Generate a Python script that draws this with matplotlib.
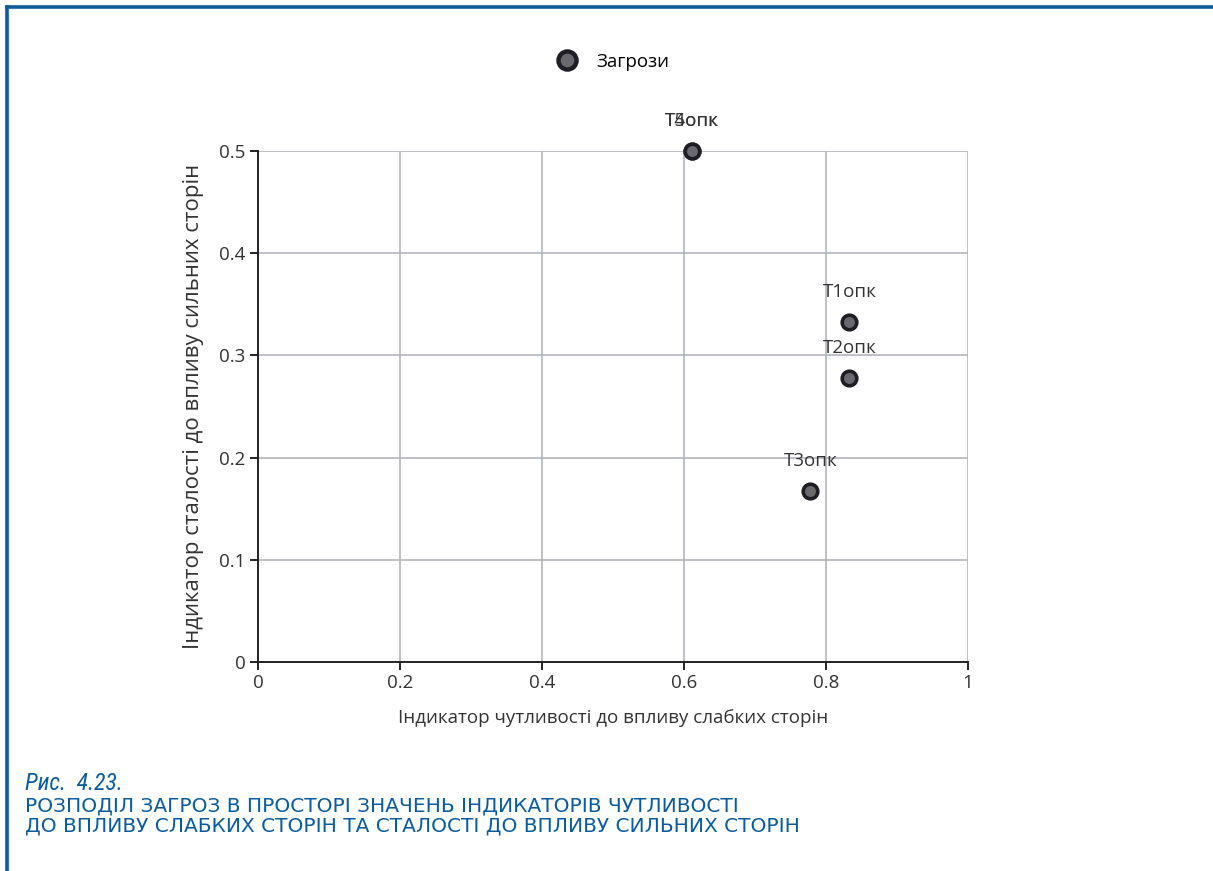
import matplotlib

matplotlib.use("Agg")
import matplotlib.pyplot as plt
from matplotlib import font_manager
from matplotlib.lines import Line2D

# threat positions: sensitivity to weaknesses (x) vs. stability to strengths (y)
labels = ["Т1опк", "Т2опк", "Т3опк", "Т4опк", "Т5опк"]
x_vals = [0.833, 0.833, 0.778, 0.611, 0.611]
y_vals = [0.333, 0.278, 0.167, 0.5, 0.5]

x_ticks = [0, 0.2, 0.4, 0.6, 0.8, 1]
x_ticklabels = ["0", "0.2", "0.4", "0.6", "0.8", "1"]
y_ticks = [0, 0.1, 0.2, 0.3, 0.4, 0.5]
y_ticklabels = ["0", "0.1", "0.2", "0.3", "0.4", "0.5"]

BLUE = "#0b5c9c"
GRID = "#b4b4bc"
names = {f.name for f in font_manager.fontManager.ttflist}
NARROW = next((n for n in ["Liberation Sans Narrow", "DejaVu Sans Condensed",
                           "Roboto Condensed", "Open Sans Condensed"] if n in names),
              "DejaVu Sans")
plt.rcParams["font.family"] = ["Open Sans", "DejaVu Sans"]

fig = plt.figure(figsize=(12.13, 8.71), dpi=100)
ax = fig.add_axes([0.2127, 0.2400, 0.5853, 0.5867])

ax.scatter(x_vals, y_vals, s=110, c="#6a6a6e", edgecolors="#1e1e24",
           linewidths=2.6, zorder=3, clip_on=False)
for lab, x, y in zip(labels, x_vals, y_vals):
    ax.annotate(lab, (x, y), xytext=(0, 15), textcoords="offset points",
                ha="center", va="bottom", fontsize=13.5, color="#333333")

ax.set_xlim(0, 1)
ax.set_ylim(0, 0.5)
ax.set_xticks(x_ticks, x_ticklabels)
ax.set_yticks(y_ticks, y_ticklabels)
ax.grid(True, color=GRID, lw=1.2)
ax.set_axisbelow(True)
for s in ["top", "right"]:
    ax.spines[s].set_visible(False)
for s in ["left", "bottom"]:
    ax.spines[s].set_color("#222222")
    ax.spines[s].set_linewidth(1.4)
ax.tick_params(direction="out", length=6, width=1.4, color="#222222",
               labelsize=13.5, labelcolor="#333333", pad=3)
ax.set_xlabel("Індикатор чутливості до впливу слабких сторін", fontsize=13.5,
              color="#333333", labelpad=12)
ax.set_ylabel("Індикатор сталості до впливу сильних сторін", fontsize=16,
              color="#333333", labelpad=11)

handle = Line2D([], [], ls="none", marker="o", ms=13, mfc="#6a6a6e",
                mec="#1e1e24", mew=3.2)
fig.legend([handle], ["Загрози"], loc="center", bbox_to_anchor=(0.502, 0.929),
           frameon=False, fontsize=13.5, handletextpad=0.6)

# page frame and caption
fig.add_artist(Line2D([0.006, 1.0], [0.992, 0.992], color=BLUE, lw=2.6))
fig.add_artist(Line2D([0.006, 0.006], [0.0, 0.992], color=BLUE, lw=2.6))
fig.text(0.021, 0.093, "Рис.  4.23.", fontsize=17 if NARROW != "DejaVu Sans" else 14,
         style="italic", color=BLUE, family=NARROW, va="baseline")
fig.text(0.021, 0.0685, "РОЗПОДІЛ ЗАГРОЗ В ПРОСТОРІ ЗНАЧЕНЬ ІНДИКАТОРІВ ЧУТЛИВОСТІ",
         fontsize=14.5, color=BLUE, family="DejaVu Sans", va="baseline")
fig.text(0.021, 0.0455, "ДО ВПЛИВУ СЛАБКИХ СТОРІН ТА СТАЛОСТІ ДО ВПЛИВУ СИЛЬНИХ СТОРІН",
         fontsize=14.5, color=BLUE, family="DejaVu Sans", va="baseline")

fig.savefig("out.png", dpi=100)
